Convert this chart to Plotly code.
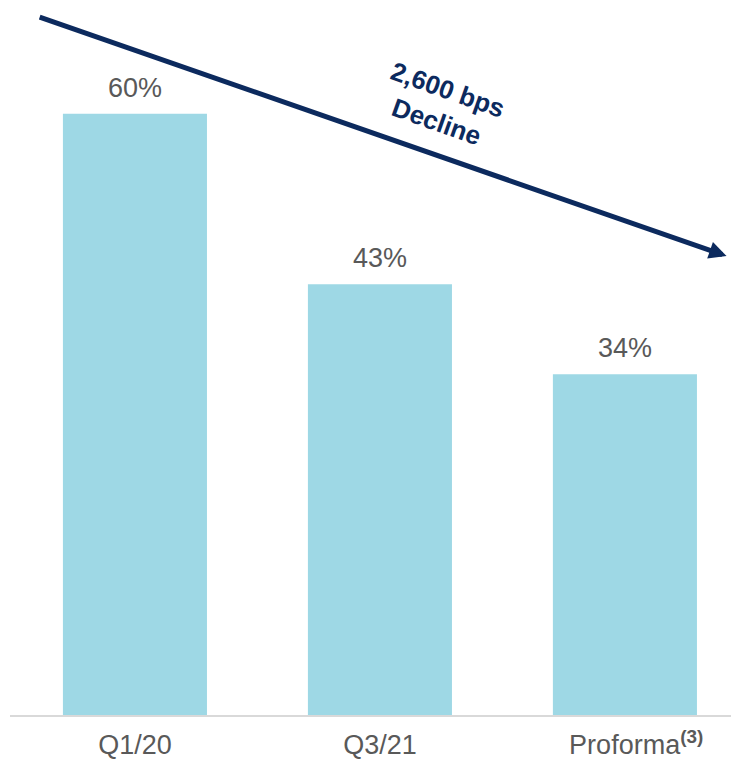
import plotly.graph_objects as go

categories = ["Q1/20", "Q3/21", "&nbsp;&nbsp;&nbsp;Proforma<sup><b>(3)</b></sup>"]
values = [60, 43, 34]
value_labels = ["60%", "43%", "34%"]
annotation_text = "<b>2,600 bps<br>Decline</b>"

x_pos = [0, 1, 2]
font_family = "Liberation Sans, Arial"

fig = go.Figure()
fig.add_trace(go.Bar(
    x=x_pos, y=values, width=0.588,
    marker=dict(color="#9ED8E5", line=dict(width=0)),
    hoverinfo="skip",
))

for xp, v, lab in zip(x_pos, values, value_labels):
    fig.add_annotation(
        x=xp, y=v, xref="x", yref="y", text=lab, showarrow=False,
        yanchor="middle", yshift=26,
        font=dict(family=font_family, size=27, color="#595959"),
    )

navy = "#0C2A5E"
# trend arrow
fig.add_annotation(
    x=2.415, y=45.8, ax=-0.395, ay=69.7,
    xref="x", yref="y", axref="x", ayref="y",
    text="", showarrow=True, arrowhead=2, arrowsize=0.7, arrowwidth=5,
    arrowcolor=navy,
)
fig.add_annotation(
    x=1.255, y=60.8, xref="x", yref="y",
    text=annotation_text, showarrow=False, textangle=19.5,
    font=dict(family=font_family, size=26, color=navy),
    align="center",
)

fig.update_layout(
    width=731, height=759,
    margin=dict(l=10, r=0, t=0, b=44),
    plot_bgcolor="white", paper_bgcolor="white",
    showlegend=False,
    xaxis=dict(
        range=[-0.51, 2.433], tickmode="array", tickvals=x_pos, ticktext=categories,
        showgrid=False, zeroline=False, showline=True, linecolor="#D9D9D9", linewidth=2,
        ticks="", ticklabelstandoff=5,
        tickfont=dict(family=font_family, size=27, color="#595959"),
        fixedrange=True,
    ),
    yaxis=dict(range=[0, 71.36], visible=False, showgrid=False, zeroline=False, fixedrange=True),
)

fig.write_html("out.html")
